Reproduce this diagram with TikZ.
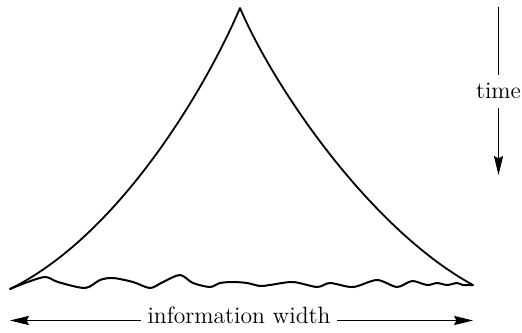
\documentclass[tikz,border=0pt]{standalone}
\usetikzlibrary{arrows.meta}
\begin{document}
\begin{tikzpicture}[x=0.5pt,y=-0.5pt,
  outline/.style={line width=0.9pt,line join=round},
  front/.style={line width=1pt,line join=round,line cap=round},
  arr/.style={line width=0.55pt,-{Stealth[length=9.5pt,width=4.6pt,inset=1.2pt]}},
  lbl/.style={font=\fontsize{11.8}{14}\selectfont}]
\useasboundingbox (0,0) rectangle (522,332);
% cone
\coordinate (apex) at (240,8);
\coordinate (bl) at (10,289);
\coordinate (br) at (473,285);
\draw[outline] (bl) .. controls (118,236) and (205,90) .. (apex)
  .. controls (275,90) and (372,230) .. (br);
% wavy front
\draw[front] plot[smooth,tension=0.5] coordinates {
 (10,289) (25,283) (45,277) (58,282) (85,288) (100,280) (113,278) (133,282)
 (150,288) (163,282) (180,275) (193,283) (210,287) (220,283) (233,282)
 (247,283) (260,286) (270,285) (293,282) (317,287) (330,283) (353,287)
 (377,280) (397,287) (412,281) (427,285) (437,283) (447,285) (457,283)
 (463,285) (473,285)};
% information width
\coordinate (L) at (10,320.5);
\coordinate (R) at (473,320.5);
\node[lbl,inner xsep=3pt] (iw) at (239,315) {information width};
\draw[arr] (iw.west |- L) -- (L);
\draw[arr] (iw.east |- R) -- (R);
% time
\coordinate (T0) at (498.5,7);
\coordinate (T1) at (498.5,175);
\node[lbl,anchor=base,text height=8pt,text depth=1.5pt,inner ysep=3.5pt,inner xsep=0pt] (time) at (498.5,98) {time};
\draw[line width=0.55pt] (T0) -- (time.north);
\draw[arr] (time.south) -- (T1);
\end{tikzpicture}
\end{document}
